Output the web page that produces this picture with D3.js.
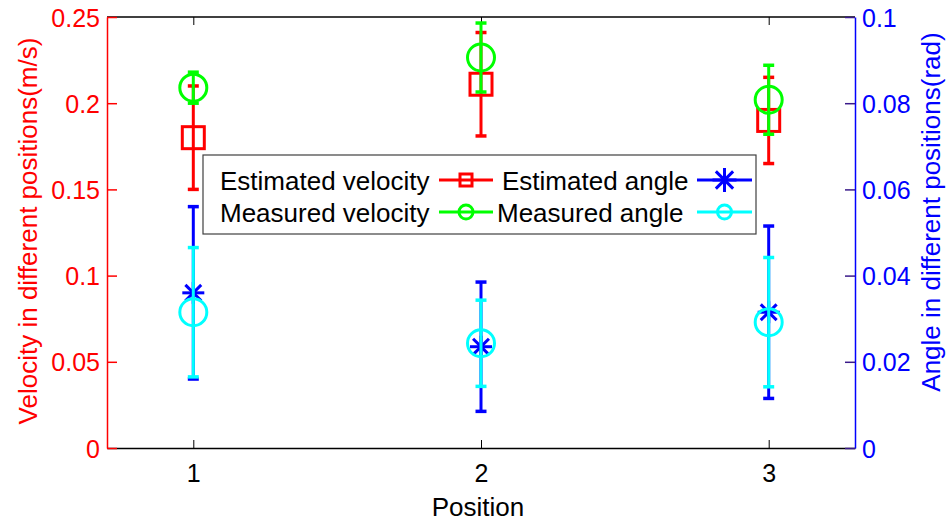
<!DOCTYPE html>
<html>
<head>
<meta charset="utf-8">
<script src="https://cdn.jsdelivr.net/npm/d3@7"></script>
<style>
  html, body { margin: 0; padding: 0; background: #fff; }
  svg { display: block; font-family: "Liberation Sans", Arial, Helvetica, sans-serif; }
</style>
</head>
<body>
<svg id="chart" width="947" height="521"></svg>
<script>
// Positions along the x axis
const positions = [1, 2, 3];

// Velocity (m/s), left axis
const estVelocity = [0.180, 0.211, 0.190];
const estVelocityErr = [0.030, 0.030, 0.025];
const measVelocity = [0.209, 0.2265, 0.202];
const measVelocityErr = [0.009, 0.020, 0.020];

// Angle (rad), right axis
const estAngle = [0.036, 0.0235, 0.0315];
const estAngleErr = [0.020, 0.015, 0.020];
const measAngle = [0.0315, 0.0243, 0.0292];
const measAngleErr = [0.015, 0.010, 0.015];

// Tick labels
const velTicks = [0, 0.05, 0.1, 0.15, 0.2, 0.25];
const velTickLabels = ["0", "0.05", "0.1", "0.15", "0.2", "0.25"];
const angTicks = [0, 0.02, 0.04, 0.06, 0.08, 0.1];
const angTickLabels = ["0", "0.02", "0.04", "0.06", "0.08", "0.1"];
const xTickLabels = ["1", "2", "3"];

const RED = "#ff0000", GREEN = "#00ff00", BLUE = "#0000ff", CYAN = "#00ffff";

const svg = d3.select("#chart");
const plotL = 107, plotR = 855, plotT = 17, plotB = 448;

const x = d3.scaleLinear().domain([0.7, 3.3]).range([plotL, plotR]);
const yV = d3.scaleLinear().domain([0, 0.25]).range([plotB, plotT]);
const yA = d3.scaleLinear().domain([0, 0.1]).range([plotB, plotT]);

const FS = 25;     // tick labels
const FS_T = 26;   // titles and legend

// Box: top black line
svg.append("line").attr("x1", plotL).attr("x2", plotR).attr("y1", plotT).attr("y2", plotT)
  .attr("stroke", "#000").attr("stroke-width", 1.5);

// Bottom x axis with inward ticks
const xAxisB = svg.append("g").attr("transform", `translate(0,${plotB})`)
  .call(d3.axisBottom(x).tickValues(positions).tickSizeInner(-8).tickSizeOuter(0)
    .tickFormat((d, i) => xTickLabels[i]));
xAxisB.select(".domain").attr("stroke", "#000").attr("stroke-width", 1.5);
xAxisB.selectAll(".tick line").attr("stroke", "#000").attr("stroke-width", 1);
xAxisB.selectAll(".tick text").attr("font-size", FS).attr("fill", "#000")
  .attr("font-family", "Liberation Sans, Arial, sans-serif").attr("dy", "0").attr("y", 34);

// Top ticks
const xAxisT = svg.append("g").attr("transform", `translate(0,${plotT})`)
  .call(d3.axisTop(x).tickValues(positions).tickSizeInner(-8).tickSizeOuter(0).tickFormat(""));
xAxisT.select(".domain").remove();
xAxisT.selectAll(".tick line").attr("stroke", "#000").attr("stroke-width", 1);

// Left axis (velocity)
const yAxisL = svg.append("g").attr("transform", `translate(${plotL},0)`)
  .call(d3.axisLeft(yV).tickValues(velTicks).tickSizeInner(-10).tickSizeOuter(0)
    .tickFormat((d, i) => velTickLabels[i]));
yAxisL.select(".domain").attr("stroke", RED).attr("stroke-width", 1.5);
yAxisL.selectAll(".tick line").attr("stroke", RED).attr("stroke-width", 1.5);
yAxisL.selectAll(".tick text").attr("font-size", FS).attr("fill", RED)
  .attr("font-family", "Liberation Sans, Arial, sans-serif").attr("x", -7).attr("dy", "0.36em");

// Right axis (angle)
const yAxisR = svg.append("g").attr("transform", `translate(${plotR},0)`)
  .call(d3.axisRight(yA).tickValues(angTicks).tickSizeInner(-10).tickSizeOuter(0)
    .tickFormat((d, i) => angTickLabels[i]));
yAxisR.select(".domain").attr("stroke", BLUE).attr("stroke-width", 1.5);
yAxisR.selectAll(".tick line").attr("stroke", "#3a1a8a").attr("stroke-width", 1.5);
yAxisR.selectAll(".tick text").attr("font-size", FS).attr("fill", BLUE)
  .attr("font-family", "Liberation Sans, Arial, sans-serif").attr("x", 7).attr("dy", "0.36em");

// Axis titles
svg.append("text").attr("x", 478).attr("y", 516).attr("text-anchor", "middle")
  .attr("font-size", FS_T).attr("fill", "#000").text("Position");
svg.append("text").attr("transform", "translate(37,231) rotate(-90)").attr("text-anchor", "middle")
  .attr("font-size", FS_T).attr("fill", RED).text("Velocity in different positions(m/s)");
svg.append("text").attr("transform", "translate(940,212) rotate(-90)").attr("text-anchor", "middle")
  .attr("font-size", FS_T).attr("fill", BLUE).text("Angle in different positions(rad)");

// Marker drawing helpers
function drawMarker(g, shape, cx, cy, size, color) {
  if (shape === "square") {
    g.append("rect").attr("x", cx - size / 2).attr("y", cy - size / 2)
      .attr("width", size).attr("height", size)
      .attr("fill", "none").attr("stroke", color).attr("stroke-width", 3);
  } else if (shape === "circle") {
    g.append("circle").attr("cx", cx).attr("cy", cy).attr("r", size / 2)
      .attr("fill", "none").attr("stroke", color).attr("stroke-width", 3);
  } else if (shape === "star") {
    const h = size / 2, d = h * 0.72;
    const segs = [[-h, 0, h, 0], [0, -h, 0, h], [-d, -d, d, d], [-d, d, d, -d]];
    segs.forEach(s => g.append("line")
      .attr("x1", cx + s[0]).attr("y1", cy + s[1]).attr("x2", cx + s[2]).attr("y2", cy + s[3])
      .attr("stroke", color).attr("stroke-width", 3));
  }
}

function drawSeries(values, errs, yScale, color, shape, size) {
  const g = svg.append("g");
  positions.forEach((p, i) => {
    const cx = x(p);
    const y0 = yScale(values[i] - errs[i]);
    const y1 = yScale(values[i] + errs[i]);
    g.append("line").attr("x1", cx).attr("x2", cx).attr("y1", y0).attr("y2", y1)
      .attr("stroke", color).attr("stroke-width", 3);
    [y0, y1].forEach(yy => g.append("line")
      .attr("x1", cx - 5.5).attr("x2", cx + 5.5).attr("y1", yy).attr("y2", yy)
      .attr("stroke", color).attr("stroke-width", 3.5));
    drawMarker(g, shape, cx, yScale(values[i]), size, color);
  });
}

drawSeries(estVelocity, estVelocityErr, yV, RED, "square", 22);
drawSeries(measVelocity, measVelocityErr, yV, GREEN, "circle", 27);
drawSeries(estAngle, estAngleErr, yA, BLUE, "star", 22);
drawSeries(measAngle, measAngleErr, yA, CYAN, "circle", 27);

// Legend
const lg = svg.append("g");
lg.append("rect").attr("x", 203).attr("y", 155).attr("width", 553).attr("height", 79)
  .attr("fill", "#fff").attr("stroke", "#404040").attr("stroke-width", 1.2);

const legendItems = [
  { label: "Estimated velocity", tx: 220, ty: 190, lx0: 439, lx1: 493, color: RED, shape: "square", size: 12 },
  { label: "Measured velocity", tx: 220, ty: 222, lx0: 439, lx1: 493, color: GREEN, shape: "circle", size: 14 },
  { label: "Estimated angle", tx: 502, ty: 190, lx0: 697, lx1: 752, color: BLUE, shape: "star", size: 24 },
  { label: "Measured angle", tx: 497, ty: 222, lx0: 697, lx1: 752, color: CYAN, shape: "circle", size: 14 }
];
legendItems.forEach(it => {
  lg.append("text").attr("x", it.tx).attr("y", it.ty).attr("font-size", FS_T)
    .attr("fill", "#000").text(it.label);
  const ly = it.ty - 10;
  lg.append("line").attr("x1", it.lx0).attr("x2", it.lx1).attr("y1", ly).attr("y2", ly)
    .attr("stroke", it.color).attr("stroke-width", 3);
  drawMarker(lg, it.shape, (it.lx0 + it.lx1) / 2, ly, it.size, it.color);
});
</script>
</body>
</html>
